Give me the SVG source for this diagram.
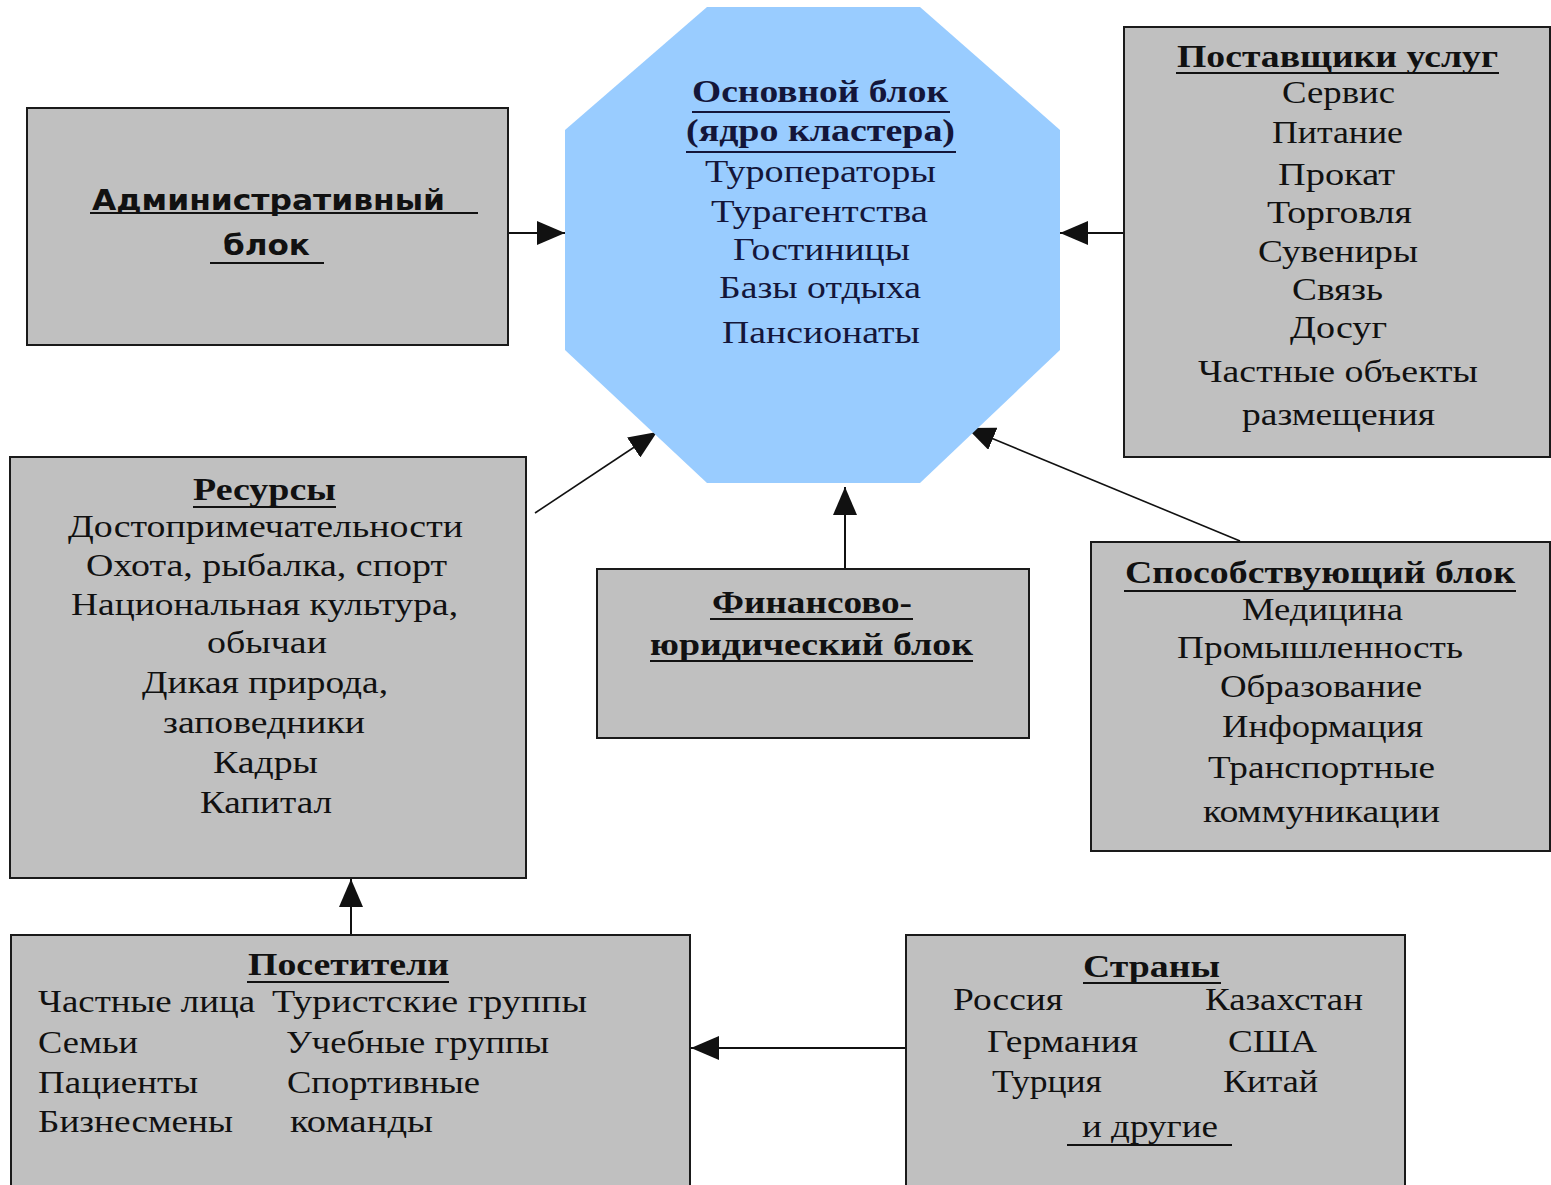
<svg xmlns="http://www.w3.org/2000/svg" width="1551" height="1185" viewBox="0 0 1551 1185">
<style>
.box{fill:#C0C0C0;stroke:#1a1a1a;stroke-width:2}
.oct{fill:#99CCFF}
.t{font-family:"Liberation Serif","Times New Roman",serif;font-size:31px;fill:#111}
.b{font-weight:bold}
.n{fill:#14163a}
.adm{font-family:"DejaVu Sans","Liberation Sans",sans-serif;font-size:29px;font-weight:bold;fill:#111}
.ul{stroke:#111;stroke-width:2}
.ul2{stroke:#14163a;stroke-width:2}
.c{stroke:#111;stroke-width:2;fill:none;marker-end:url(#ah)}
.cd{stroke:#111;stroke-width:1.6;fill:none;marker-end:url(#ah)}
</style>
<defs>
<marker id="ah" markerUnits="userSpaceOnUse" markerWidth="28" markerHeight="24" refX="28" refY="12" orient="auto">
<path d="M0,0 L28,12 L0,24 Z" fill="#111"/>
</marker>
</defs>
<rect width="1551" height="1185" fill="#fff"/>

<g id="connectors">
<line class="c" x1="508" y1="233" x2="565" y2="233"/>
<line class="c" x1="1123" y1="233" x2="1060" y2="233"/>
<line class="cd" x1="535" y1="513" x2="657" y2="432"/>
<line class="c" x1="845" y1="569" x2="845" y2="487"/>
<line class="cd" x1="1240" y1="541" x2="967" y2="428"/>
<line class="c" x1="351" y1="935" x2="351" y2="879"/>
<line class="c" x1="906" y1="1048" x2="691" y2="1048"/>
</g>

<g id="admin">
<rect class="box" x="27" y="108" width="481" height="237"/>
<text class="adm" x="92" y="210" textLength="353" lengthAdjust="spacingAndGlyphs">Административный</text>
<line class="ul" x1="90" y1="213" x2="478" y2="213"/>
<text class="adm" x="223" y="255" textLength="87" lengthAdjust="spacingAndGlyphs">блок</text>
<line class="ul" x1="210" y1="263" x2="324" y2="263"/>
</g>

<g id="core">
<polygon class="oct" points="707,7 920,7 1060,130 1060,350 920,483 707,483 565,350 565,130"/>
<text class="t b n" x="692" y="102" textLength="256" lengthAdjust="spacingAndGlyphs">Основной блок</text>
<line class="ul2" x1="692" y1="112" x2="950" y2="112"/>
<text class="t b n" x="686" y="141" textLength="269" lengthAdjust="spacingAndGlyphs">(ядро кластера)</text>
<line class="ul2" x1="686" y1="152" x2="956" y2="152"/>
<text class="t n" x="705" y="182" textLength="231" lengthAdjust="spacingAndGlyphs">Туроператоры</text>
<text class="t n" x="711" y="222" textLength="217" lengthAdjust="spacingAndGlyphs">Турагентства</text>
<text class="t n" x="733" y="260" textLength="177" lengthAdjust="spacingAndGlyphs">Гостиницы</text>
<text class="t n" x="719" y="298" textLength="202" lengthAdjust="spacingAndGlyphs">Базы отдыха</text>
<text class="t n" x="722" y="343" textLength="198" lengthAdjust="spacingAndGlyphs">Пансионаты</text>
</g>

<g id="providers">
<rect class="box" x="1124" y="27" width="426" height="430"/>
<text class="t b" x="1177" y="67" textLength="321" lengthAdjust="spacingAndGlyphs">Поставщики услуг</text>
<line class="ul" x1="1176" y1="73" x2="1499" y2="73"/>
<text class="t" x="1282" y="103" textLength="113" lengthAdjust="spacingAndGlyphs">Сервис</text>
<text class="t" x="1272" y="143" textLength="131" lengthAdjust="spacingAndGlyphs">Питание</text>
<text class="t" x="1278" y="185" textLength="117" lengthAdjust="spacingAndGlyphs">Прокат</text>
<text class="t" x="1267" y="223" textLength="145" lengthAdjust="spacingAndGlyphs">Торговля</text>
<text class="t" x="1258" y="262" textLength="160" lengthAdjust="spacingAndGlyphs">Сувениры</text>
<text class="t" x="1292" y="300" textLength="91" lengthAdjust="spacingAndGlyphs">Связь</text>
<text class="t" x="1290" y="338" textLength="97" lengthAdjust="spacingAndGlyphs">Досуг</text>
<text class="t" x="1198" y="382" textLength="280" lengthAdjust="spacingAndGlyphs">Частные объекты</text>
<text class="t" x="1242" y="425" textLength="193" lengthAdjust="spacingAndGlyphs">размещения</text>
</g>

<g id="resources">
<rect class="box" x="10" y="457" width="516" height="421"/>
<text class="t b" x="193" y="500" textLength="143" lengthAdjust="spacingAndGlyphs">Ресурсы</text>
<line class="ul" x1="193" y1="507" x2="336" y2="507"/>
<text class="t" x="68" y="537" textLength="395" lengthAdjust="spacingAndGlyphs">Достопримечательности</text>
<text class="t" x="86" y="576" textLength="361" lengthAdjust="spacingAndGlyphs">Охота, рыбалка, спорт</text>
<text class="t" x="71" y="615" textLength="387" lengthAdjust="spacingAndGlyphs">Национальная культура,</text>
<text class="t" x="207" y="653" textLength="120" lengthAdjust="spacingAndGlyphs">обычаи</text>
<text class="t" x="142" y="693" textLength="246" lengthAdjust="spacingAndGlyphs">Дикая природа,</text>
<text class="t" x="163" y="733" textLength="202" lengthAdjust="spacingAndGlyphs">заповедники</text>
<text class="t" x="213" y="773" textLength="105" lengthAdjust="spacingAndGlyphs">Кадры</text>
<text class="t" x="200" y="813" textLength="132" lengthAdjust="spacingAndGlyphs">Капитал</text>
</g>

<g id="finance">
<rect class="box" x="597" y="569" width="432" height="169"/>
<text class="t b" x="712" y="613" textLength="200" lengthAdjust="spacingAndGlyphs">Финансово-</text>
<line class="ul" x1="710" y1="619" x2="913" y2="619"/>
<text class="t b" x="650" y="655" textLength="323" lengthAdjust="spacingAndGlyphs">юридический блок</text>
<line class="ul" x1="650" y1="661" x2="973" y2="661"/>
</g>

<g id="supporting">
<rect class="box" x="1091" y="542" width="459" height="309"/>
<text class="t b" x="1125" y="583" textLength="390" lengthAdjust="spacingAndGlyphs">Способствующий блок</text>
<line class="ul" x1="1124" y1="591" x2="1516" y2="591"/>
<text class="t" x="1242" y="620" textLength="161" lengthAdjust="spacingAndGlyphs">Медицина</text>
<text class="t" x="1177" y="658" textLength="286" lengthAdjust="spacingAndGlyphs">Промышленность</text>
<text class="t" x="1220" y="697" textLength="202" lengthAdjust="spacingAndGlyphs">Образование</text>
<text class="t" x="1222" y="737" textLength="201" lengthAdjust="spacingAndGlyphs">Информация</text>
<text class="t" x="1208" y="778" textLength="227" lengthAdjust="spacingAndGlyphs">Транспортные</text>
<text class="t" x="1203" y="822" textLength="237" lengthAdjust="spacingAndGlyphs">коммуникации</text>
</g>

<g id="visitors">
<rect class="box" x="11" y="935" width="679" height="260"/>
<text class="t b" x="248" y="975" textLength="201" lengthAdjust="spacingAndGlyphs">Посетители</text>
<line class="ul" x1="247" y1="982" x2="449" y2="982"/>
<text class="t" x="38" y="1012" textLength="217" lengthAdjust="spacingAndGlyphs">Частные лица</text>
<text class="t" x="272" y="1012" textLength="315" lengthAdjust="spacingAndGlyphs">Туристские группы</text>
<text class="t" x="38" y="1053" textLength="100" lengthAdjust="spacingAndGlyphs">Семьи</text>
<text class="t" x="286" y="1053" textLength="263" lengthAdjust="spacingAndGlyphs">Учебные группы</text>
<text class="t" x="38" y="1093" textLength="160" lengthAdjust="spacingAndGlyphs">Пациенты</text>
<text class="t" x="287" y="1093" textLength="193" lengthAdjust="spacingAndGlyphs">Спортивные</text>
<text class="t" x="38" y="1132" textLength="195" lengthAdjust="spacingAndGlyphs">Бизнесмены</text>
<text class="t" x="290" y="1132" textLength="143" lengthAdjust="spacingAndGlyphs">команды</text>
</g>

<g id="countries">
<rect class="box" x="906" y="935" width="499" height="260"/>
<text class="t b" x="1083" y="977" textLength="137" lengthAdjust="spacingAndGlyphs">Страны</text>
<line class="ul" x1="1083" y1="983" x2="1221" y2="983"/>
<text class="t" x="953" y="1010" textLength="110" lengthAdjust="spacingAndGlyphs">Россия</text>
<text class="t" x="1205" y="1010" textLength="158" lengthAdjust="spacingAndGlyphs">Казахстан</text>
<text class="t" x="987" y="1052" textLength="151" lengthAdjust="spacingAndGlyphs">Германия</text>
<text class="t" x="1228" y="1052" textLength="89" lengthAdjust="spacingAndGlyphs">США</text>
<text class="t" x="992" y="1092" textLength="110" lengthAdjust="spacingAndGlyphs">Турция</text>
<text class="t" x="1223" y="1092" textLength="95" lengthAdjust="spacingAndGlyphs">Китай</text>
<text class="t" x="1082" y="1137" textLength="136" lengthAdjust="spacingAndGlyphs">и другие</text>
<line class="ul" x1="1067" y1="1145" x2="1232" y2="1145"/>
</g>
</svg>
